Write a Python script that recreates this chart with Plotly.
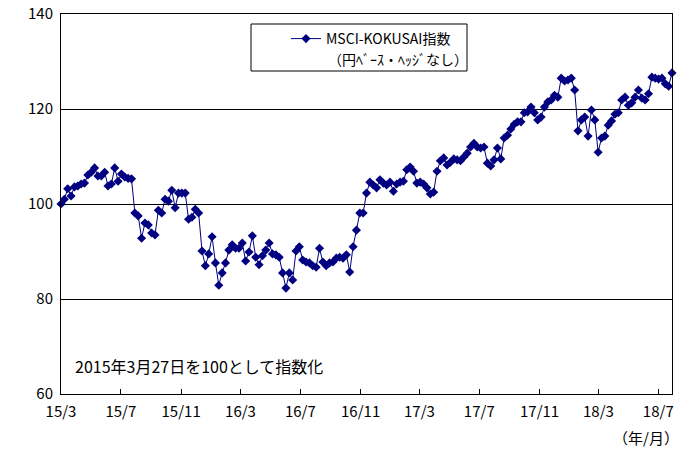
import pandas as pd
import plotly.graph_objects as go

start_date = "2015-03-27"
end_date = "2018-08-24"

index_values = [
    100.0, 101.0, 103.2, 101.7, 103.6, 103.8, 104.2, 104.4, 106.1, 106.7,
    107.6, 105.9, 105.9, 106.7, 103.8, 104.2, 107.6, 104.8, 106.3, 105.7,
    105.4, 105.3,
    98.1, 97.5, 92.8, 96.0, 95.6, 93.9, 93.5, 98.7, 98.1, 101.0,
    100.6, 102.9, 99.2, 102.3, 102.3, 102.3, 96.8, 97.2, 98.9, 98.1,
    90.1, 87.0, 89.5, 93.1, 87.6, 82.9,
    85.5, 87.6, 90.3, 91.4, 90.7, 90.7, 91.8, 88.0, 89.9, 93.3,
    88.8, 87.2, 89.1, 90.3, 91.8, 89.5, 89.3, 88.8, 85.5, 82.3,
    85.5, 84.0, 90.1, 91.0, 88.2, 87.8, 87.6, 87.0, 86.7, 90.7,
    87.8, 87.0, 87.6, 87.8, 88.6, 88.8, 88.6, 89.3, 85.7, 91.0,
    94.5, 98.1, 98.1, 102.3, 104.6,
    104.0, 103.4, 105.1, 104.4, 104.0, 104.6, 102.7, 104.2, 104.6, 104.8,
    107.2, 107.8, 106.9, 104.4, 104.6, 104.2, 103.4, 102.1, 102.5, 106.9,
    109.1, 109.7, 108.2, 108.8, 109.5, 109.3, 109.1, 109.9, 110.7, 112.0,
    112.8, 112.0, 111.8, 112.0, 108.6, 108.0, 109.3, 111.8, 109.5, 113.9,
    114.5, 115.8, 116.8, 117.3, 117.3, 119.2,
    119.4, 120.4, 119.2, 117.7, 118.3, 120.4, 121.5, 121.9, 122.9, 122.5,
    126.5, 125.9, 126.1, 126.5, 124.0, 115.4, 117.7, 118.3, 114.3, 119.8,
    117.7, 110.9, 113.9, 114.3, 116.6, 117.5, 118.9, 119.2, 121.9, 122.5,
    120.8, 121.3, 122.5, 124.0, 122.3, 121.9, 123.2, 126.7, 126.5, 126.3,
    126.5, 125.3, 124.8, 127.6,
]

tick_dates = ["2015-03-27", "2015-07-27", "2015-11-27", "2016-03-27", "2016-07-27",
              "2016-11-27", "2017-03-27", "2017-07-27", "2017-11-27", "2018-03-27",
              "2018-07-27"]
tick_labels = ["15/3", "15/7", "15/11", "16/3", "16/7", "16/11", "17/3", "17/7",
               "17/11", "18/3", "18/7"]
y_ticks = [60, 80, 100, 120, 140]

series_name = "MSCI-KOKUSAI指数"
series_sub = "（円ﾍﾞｰｽ・ﾍｯｼﾞなし）"
note_text = "2015年3月27日を100として指数化"
unit_text = "（年/月）"

dates = pd.date_range(start_date, end_date, periods=len(index_values))

FONT = "Noto Sans CJK JP"
NAVY = "#000080"

# plot area in pixels: left 61, right 672, top 14, bottom 394
L, R, T, B = 61, 672, 14, 394
def px(x):
    return (x - L) / (R - L)
def py(y):
    return (B - y) / (B - T)

fig = go.Figure()
fig.add_trace(go.Scatter(
    x=dates, y=index_values, mode="lines+markers", name=series_name,
    line=dict(color=NAVY, width=1),
    marker=dict(symbol="diamond", size=7, color=NAVY),
    cliponaxis=False,
))

fig.update_layout(
    width=684, height=462,
    margin=dict(l=L, r=684 - R, t=T, b=462 - B, autoexpand=False),
    paper_bgcolor="white", plot_bgcolor="white",
    font=dict(family=FONT, size=15, color="black"),
    showlegend=True,
    legend=dict(
        x=px(286), y=py(23), xanchor="left", yanchor="top",
        borderwidth=0, bgcolor="rgba(0,0,0,0)",
        font=dict(family=FONT, size=14, color="black"),
        itemwidth=30, tracegroupgap=0,
    ),
    xaxis=dict(
        type="date", range=[start_date, end_date],
        tickmode="array", tickvals=tick_dates, ticktext=tick_labels,
        ticks="inside", ticklen=5, tickcolor="black",
        showline=True, linecolor="black", linewidth=1, mirror=True,
        showgrid=False, zeroline=False, automargin=False,
        ticklabelstandoff=4,
        tickfont=dict(family=FONT, size=15),
    ),
    yaxis=dict(
        range=[60, 140], tickmode="array", tickvals=y_ticks,
        ticks="", showline=True, linecolor="black", linewidth=1, mirror=True,
        showgrid=True, gridcolor="black", gridwidth=1, zeroline=False,
        automargin=False, ticklabelstandoff=4,
        tickfont=dict(family=FONT, size=15),
    ),
    shapes=[
        dict(type="rect", xref="paper", yref="paper",
             x0=px(251), x1=px(467), y0=py(24), y1=py(71),
             line=dict(color="black", width=1), fillcolor="white", layer="below"),
    ],
    annotations=[
        dict(text=series_sub, xref="paper", yref="paper", x=px(326), y=py(59),
             xanchor="left", yanchor="middle", showarrow=False,
             font=dict(family=FONT, size=14)),
        dict(text=note_text, xref="paper", yref="paper", x=px(73), y=py(366),
             xanchor="left", yanchor="middle", showarrow=False,
             font=dict(family=FONT, size=16)),
        dict(text=unit_text, xref="paper", yref="paper", x=px(681), y=py(438),
             xanchor="right", yanchor="middle", showarrow=False,
             font=dict(family=FONT, size=15)),
    ],
)

fig.write_html("out.html", config={"displayModeBar": False},
               post_script="document.body.style.margin='0';")
